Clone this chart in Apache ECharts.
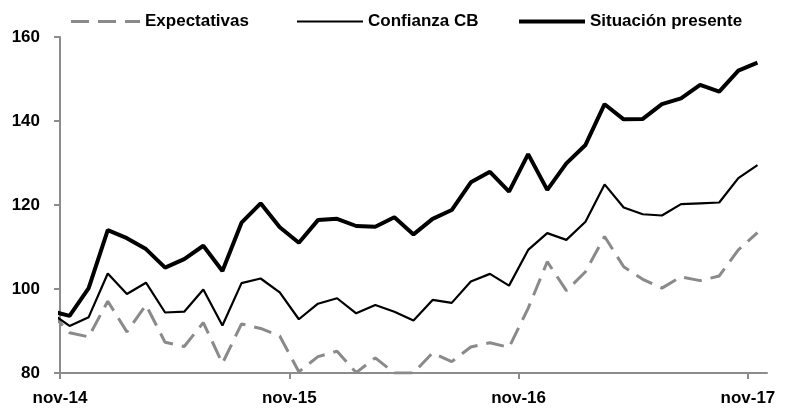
<!DOCTYPE html>
<html>
<head>
<meta charset="utf-8">
<script src="https://cdn.jsdelivr.net/npm/echarts@6/dist/echarts.min.js"></script>
<style>
  html, body { margin: 0; padding: 0; background: #fff; }
  #chart { width: 788px; height: 413px; }
</style>
</head>
<body>
<div id="chart"></div>
<script>
  // months, first one (oct-14) sits left of the axis and is clipped
  let months = [
    'oct-14', 'nov-14', 'dic-14',
    'ene-15', 'feb-15', 'mar-15', 'abr-15', 'may-15', 'jun-15', 'jul-15', 'ago-15', 'sep-15', 'oct-15', 'nov-15', 'dic-15',
    'ene-16', 'feb-16', 'mar-16', 'abr-16', 'may-16', 'jun-16', 'jul-16', 'ago-16', 'sep-16', 'oct-16', 'nov-16', 'dic-16',
    'ene-17', 'feb-17', 'mar-17', 'abr-17', 'may-17', 'jun-17', 'jul-17', 'ago-17', 'sep-17', 'oct-17', 'nov-17'
  ];
  let tickLabels = ['nov-14', 'nov-15', 'nov-16', 'nov-17'];
  let yTicks = [80, 100, 120, 140, 160];

  let expectativas = [
    94.4, 89.6, 88.6, 97.1, 89.8, 96.2, 87.3, 86.3, 92.0, 82.3, 91.7, 90.6, 88.8,
    80.3, 83.9, 85.2, 80.1, 83.6, 80.0, 80.0, 84.8, 82.7, 86.2,
    87.2, 86.1, 95.4, 106.5, 99.6, 104.1, 112.5, 105.3, 102.3, 100.2, 102.9, 102.0, 103.1, 109.3, 113.4
  ];
  let confianza = [
    94.4, 91.2, 93.3, 103.7, 98.8, 101.5, 94.4, 94.6, 99.9, 91.3, 101.4, 102.5, 99.2,
    92.8, 96.5, 97.8, 94.2, 96.2, 94.6, 92.5, 97.4, 96.7, 101.8,
    103.6, 100.8, 109.3, 113.3, 111.7, 116.0, 124.9, 119.4, 117.8, 117.5, 120.2, 120.4, 120.6, 126.4, 129.5
  ];
  let situacion = [
    94.8, 93.6, 100.2, 114.0, 112.1, 109.5, 105.1, 107.1, 110.3, 104.3, 115.8, 120.4, 114.7,
    111.0, 116.4, 116.7, 115.0, 114.8, 117.1, 113.0, 116.7, 118.8, 125.4,
    127.9, 123.2, 132.1, 123.6, 129.9, 134.3, 144.0, 140.4, 140.5, 144.0, 145.4, 148.6, 147.0, 152.0, 153.9
  ];

  // x = centre of each month band, nov-14 band spans [0, 1]
  function toPairs(values) {
    return values.map((v, i) => [i - 0.5, v]);
  }
  let tickPos = tickLabels.map(l => months.indexOf(l) - 1);

  let font = "'Liberation Sans', Arial, sans-serif";
  let axisGray = '#8c8c8c';
  let gray = '#8a8a8a';

  let legendText = { fontFamily: font, fontWeight: 'bold', fontSize: 17, color: '#000' };
  function legendFor(name, left, icon, w, h) {
    return {
      top: 8,
      left: left,
      itemWidth: w,
      itemHeight: h,
      icon: icon,
      textStyle: legendText,
      data: [name]
    };
  }

  let myChart = echarts.init(document.getElementById('chart'));
  let option = {
    animation: false,
    textStyle: { fontFamily: font },
    legend: [
      legendFor('Expectativas', 66, 'path://M0,0h18v3h-18z M27,0h18v3h-18z M54,0h15v3h-15z', 69, 3),
      legendFor('Confianza CB', 292, 'rect', 66, 2),
      legendFor('Situación presente', 514, 'rect', 66, 4)
    ],
    grid: { left: 60, right: 21, top: 37, bottom: 40 },
    xAxis: {
      type: 'value',
      min: 0,
      max: months.length - 1,
      splitLine: { show: false },
      axisLine: { show: true, onZero: false, lineStyle: { color: axisGray, width: 2 } },
      axisTick: { show: true, customValues: tickPos, length: 6, lineStyle: { color: axisGray, width: 2 } },
      axisLabel: {
        customValues: tickPos,
        margin: 17,
        fontFamily: font,
        fontWeight: 'bold',
        fontSize: 17,
        color: '#000',
        formatter: v => months[v + 1]
      }
    },
    yAxis: {
      type: 'value',
      min: yTicks[0],
      max: yTicks[yTicks.length - 1],
      interval: 20,
      splitLine: { show: false },
      axisLine: { show: true, lineStyle: { color: axisGray, width: 2 } },
      axisTick: { show: true, length: 6, lineStyle: { color: axisGray, width: 2 } },
      axisLabel: { margin: 20, fontFamily: font, fontWeight: 'bold', fontSize: 17, color: '#000' }
    },
    series: [
      {
        name: 'Expectativas',
        type: 'line',
        symbol: 'none',
        clip: true,
        data: toPairs(expectativas),
        lineStyle: { color: gray, width: 3, type: [18, 9] },
        itemStyle: { color: gray }
      },
      {
        name: 'Confianza CB',
        type: 'line',
        symbol: 'none',
        clip: true,
        data: toPairs(confianza),
        lineStyle: { color: '#000', width: 2.2 },
        itemStyle: { color: '#000' }
      },
      {
        name: 'Situación presente',
        type: 'line',
        symbol: 'none',
        clip: true,
        data: toPairs(situacion),
        lineStyle: { color: '#000', width: 4 },
        itemStyle: { color: '#000' }
      }
    ]
  };
  myChart.setOption(option);
</script>
</body>
</html>
